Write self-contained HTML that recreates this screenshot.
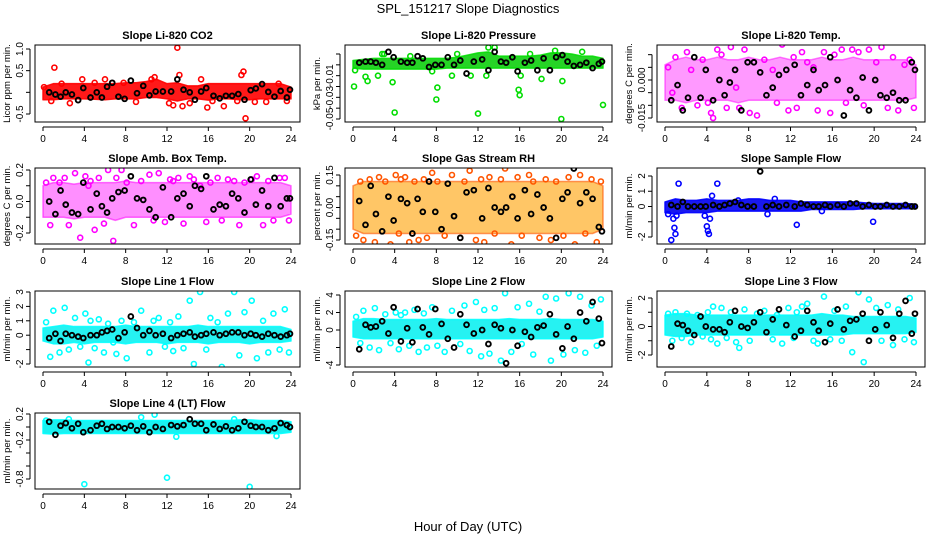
<!DOCTYPE html>
<html><head><meta charset="utf-8"><style>
body{margin:0;background:#fff;}
svg{display:block;font-family:"Liberation Sans",sans-serif;}
</style></head><body>
<svg id="chart" width="936" height="540" viewBox="0 0 936 540" xmlns="http://www.w3.org/2000/svg">
<rect width="936" height="540" fill="#fff"/>
<text x="468" y="13" text-anchor="middle" font-size="13">SPL_151217  Slope Diagnostics</text>
<text x="468" y="531" text-anchor="middle" font-size="13">Hour of Day (UTC)</text>
</svg>
<script>
const blackHours=[0.6,1.2,1.7,2.2,2.8,3.4,3.9,4.6,5.2,5.7,6.2,6.7,7.3,7.9,8.5,9.1,9.7,10.3,10.9,11.6,12.4,13.0,13.6,14.2,14.7,15.3,15.8,16.5,17.1,17.7,18.3,18.9,19.5,20.1,20.6,21.2,21.8,22.4,23.0,23.6,23.9];
const bandHours=[0,1,2,3,4,5,6,7,8,9,10,11,12,13,14,15,16,17,18,19,20,21,22,23,24];
const scatterHours=[0.3,0.7,1.0,1.6,2.1,2.5,3.1,3.6,4.1,4.4,4.6,5.0,5.4,5.9,6.3,6.8,7.1,7.6,8.1,8.8,9.5,10.3,10.7,11.2,11.8,12.3,12.6,13.1,13.6,14.2,14.6,15.2,15.8,16.2,16.9,17.3,17.9,18.5,19.0,19.5,20.2,20.7,21.3,21.8,22.3,22.9,23.4,23.8];
const xTicks=[0,4,8,12,16,20,24];

const co2Black=[0,-0.05,-0.1,0,-0.05,-0.18,0.1,-0.12,0,-0.12,0.13,0.22,-0.1,-0.15,0.27,-0.02,0.15,-0.07,0.02,0.02,0.02,0.3,0.06,0.0,-0.17,0.02,0.1,-0.08,-0.14,-0.08,-0.08,-0.04,-0.17,0.05,0.09,0.19,0.01,-0.1,0.03,-0.12,0.06];
const co2Lo=[-0.17,-0.17,-0.15,-0.15,-0.15,-0.16,-0.17,-0.15,-0.15,-0.15,-0.12,-0.12,-0.15,-0.2,-0.15,-0.15,-0.18,-0.15,-0.15,-0.17,-0.17,-0.15,-0.15,-0.15,-0.15];
const co2Hi=[0.12,0.2,0.2,0.2,0.2,0.2,0.2,0.2,0.22,0.22,0.25,0.3,0.2,0.22,0.15,0.15,0.2,0.2,0.2,0.2,0.2,0.2,0.2,0.2,0.12];
const co2OutX=[0.1,0.8,1.1,1.8,2.6,3.8,5.0,6.0,7.8,9.0,10.5,10.8,12.2,12.6,13.0,13.2,13.5,14.2,15.3,15.9,16.4,17.5,18.8,19.2,19.4,19.6,20.5,21.6,22.8,23.6];
const co2OutY=[0.12,-0.2,0.57,0.2,-0.25,0.3,0.22,0.3,0.22,-0.22,0.3,0.35,-0.25,-0.3,1.03,0.4,-0.32,-0.25,0.3,-0.35,-0.2,-0.32,-0.2,0.4,0.48,-0.6,-0.22,-0.22,0.2,-0.2];
const presBlack=[0.002,0.003,0.003,0.002,0.0,0.012,0.007,0.003,0.002,0.002,0.008,0.006,-0.002,0.0,0.0,0.007,0.0,0.004,-0.008,0.003,0.005,-0.005,0.012,0.003,0.002,0.007,-0.006,0.002,0.004,-0.005,0.006,-0.005,0.007,0.009,0.003,-0.001,0.0,0.002,-0.003,0.001,0.003];
const presLo=[-0.003,-0.004,-0.004,-0.004,-0.004,-0.004,-0.004,-0.004,-0.004,-0.003,-0.003,-0.003,-0.003,-0.003,-0.003,-0.003,-0.003,-0.003,-0.003,-0.003,-0.003,-0.003,-0.003,-0.003,-0.003];
const presHi=[0.004,0.005,0.006,0.006,0.006,0.006,0.006,0.006,0.006,0.006,0.007,0.009,0.011,0.012,0.008,0.008,0.008,0.008,0.009,0.011,0.011,0.01,0.008,0.008,0.006];
const presOutX=[0.1,0.2,1.2,1.4,2.4,2.8,3.8,4.0,5.5,7.6,8.0,8.1,10.0,11.3,12.0,12.8,13.0,13.6,15.9,16.0,16.1,18.1,19.4,20.0,20.1,22.0,24.0,3.0,9.5,17.0];
const presOutY=[-0.02,-0.005,-0.011,-0.015,-0.01,0.01,-0.016,-0.044,0.008,-0.006,-0.032,-0.021,0.01,-0.01,-0.045,-0.01,0.016,0.016,-0.023,-0.028,-0.01,-0.013,0.013,-0.05,-0.015,0.012,-0.037,0.01,-0.01,0.01];
const tempBlack=[-0.008,-0.002,-0.012,-0.007,0.009,-0.007,0.004,-0.008,0.0,-0.006,-0.001,0.004,-0.012,0.007,0.007,0.003,-0.006,-0.003,0.002,0.004,0.006,-0.006,-0.002,0.004,-0.004,-0.002,0.009,0.0,-0.014,-0.004,-0.007,0.001,-0.012,0.0,-0.006,-0.007,-0.005,-0.008,-0.008,0.007,0.004];
const tempLo=[-0.008,-0.008,-0.009,-0.008,-0.008,-0.008,-0.008,-0.009,-0.008,-0.008,-0.008,-0.008,-0.008,-0.008,-0.008,-0.008,-0.008,-0.008,-0.008,-0.008,-0.008,-0.008,-0.008,-0.008,-0.007];
const tempHi=[0.006,0.008,0.009,0.008,0.008,0.009,0.008,0.008,0.009,0.008,0.008,0.009,0.008,0.008,0.008,0.009,0.008,0.008,0.009,0.008,0.008,0.008,0.008,0.008,0.006];
const tempOutY=[0.005,-0.005,0.009,-0.011,0.011,0.004,-0.010,0.008,-0.009,-0.013,-0.015,0.012,0.010,-0.011,0.013,-0.003,-0.011,0.012,-0.013,-0.014,0.008,0.004,-0.009,0.014,-0.012,0.009,-0.011,0.011,0.007,0.005,-0.012,0.011,-0.013,0.010,0.012,-0.009,0.012,0.011,-0.010,0.012,0.007,0.013,-0.011,0.009,-0.012,0.006,0.008,-0.011];
const ambBlack=[0,-0.08,0.07,-0.02,-0.07,-0.08,0.12,-0.05,0.05,-0.03,-0.07,0.02,0.06,0.07,0.16,0.02,0.01,-0.05,-0.1,0.09,-0.1,0.02,0.05,-0.03,0.1,0.08,0.16,-0.05,-0.02,-0.03,0.05,0.02,-0.07,0.14,-0.02,0.07,-0.03,0.15,-0.03,0.02,0.02];
const ambLo=[-0.1,-0.1,-0.1,-0.11,-0.1,-0.1,-0.1,-0.12,-0.1,-0.1,-0.1,-0.1,-0.1,-0.1,-0.1,-0.1,-0.1,-0.1,-0.1,-0.1,-0.1,-0.1,-0.1,-0.1,-0.08];
const ambHi=[0.1,0.12,0.12,0.11,0.12,0.12,0.12,0.12,0.13,0.12,0.12,0.12,0.12,0.12,0.12,0.12,0.12,0.12,0.12,0.12,0.12,0.12,0.12,0.12,0.1];
const ambOutY=[0.12,-0.15,0.15,0.12,0.15,-0.15,0.18,-0.23,0.16,0.1,0.13,-0.18,0.15,-0.14,0.2,-0.25,0.15,0.2,0.12,-0.15,0.13,0.17,-0.12,0.18,-0.13,0.14,0.13,0.15,-0.14,0.16,0.14,0.1,-0.13,0.12,0.15,-0.12,0.14,0.13,-0.15,0.12,0.14,0.16,-0.15,0.13,-0.12,0.15,0.15,-0.12];
const rhBlack=[0.03,-0.08,0.1,-0.03,-0.11,0.05,-0.06,0.04,0.02,-0.12,0.04,-0.02,0.12,-0.02,-0.1,0.11,-0.04,-0.14,0.07,0.08,-0.05,0.09,0.0,-0.02,0.0,0.05,-0.05,0.08,-0.03,0.06,0.0,-0.05,-0.14,0.04,0.07,0.18,0.02,0.07,0.04,-0.09,-0.11];
const rhLo=[-0.1,-0.12,-0.12,-0.12,-0.12,-0.12,-0.12,-0.12,-0.12,-0.12,-0.12,-0.12,-0.12,-0.12,-0.12,-0.12,-0.12,-0.12,-0.12,-0.12,-0.12,-0.12,-0.12,-0.12,-0.1];
const rhHi=[0.1,0.12,0.12,0.12,0.12,0.12,0.12,0.12,0.12,0.12,0.12,0.12,0.12,0.12,0.12,0.12,0.12,0.12,0.12,0.12,0.12,0.12,0.12,0.12,0.1];
const rhOutY=[-0.13,0.12,-0.15,0.13,-0.16,0.14,0.12,-0.17,0.15,-0.12,0.13,0.14,-0.16,0.12,-0.15,0.13,-0.14,0.16,0.12,-0.13,0.15,-0.14,0.12,0.17,-0.15,0.13,-0.16,0.14,-0.12,0.13,0.18,-0.17,0.14,-0.13,0.15,0.12,-0.14,0.13,-0.15,0.12,-0.13,0.14,-0.17,0.15,-0.12,0.13,-0.16,0.12];
const sampBlack=[0.1,0.0,0.3,0.0,0.0,0.0,0.0,0.1,0.0,0.1,0.2,0.3,0.1,0.0,0.0,2.3,0.0,0.1,0.0,0.1,0.0,0.2,0.1,0.0,0.0,0.1,0.0,0.1,0.0,0.2,0.2,0.0,0.1,0.0,0.0,0.1,0.0,0.0,0.1,0.0,0.0];
const sampLo=[-0.4,-0.5,-0.4,-0.4,-0.4,-0.3,-0.3,-0.3,-0.3,-0.3,-0.3,-0.3,-0.3,-0.3,-0.2,-0.2,-0.2,-0.2,-0.2,-0.15,-0.15,-0.15,-0.15,-0.15,-0.15];
const sampHi=[0.3,0.5,0.4,0.4,0.5,0.4,0.4,0.4,0.5,0.5,0.4,0.4,0.4,0.3,0.3,0.3,0.3,0.3,0.3,0.25,0.2,0.2,0.2,0.2,0.15];
const sampOutX=[0.3,0.6,0.8,0.9,1.0,1.1,1.3,4.0,4.1,4.2,4.3,4.5,5.0,3.8,9.8,12.6,15.0,19.9,7.0,10.5];
const sampOutY=[-0.5,-2.2,-0.8,-1.4,-1.8,-0.6,1.5,-1.3,-1.6,-1.8,-0.8,0.7,1.5,-0.6,-0.5,-1.2,-0.3,-1.0,0.4,0.5];
const l1Black=[-0.2,0.1,-0.4,0.1,0.0,-0.1,-0.2,0.0,0.0,0.2,0.3,0.4,-0.2,0.2,1.3,0.5,0.0,0.3,0.0,0.1,-0.2,0.0,0.1,0.2,-0.1,0.0,0.1,0.2,0.0,0.1,0.2,0.2,0.0,0.1,0.0,-0.1,0.1,0.0,-0.1,0.0,0.1];
const l1Lo=[-0.4,-0.6,-0.6,-0.5,-0.6,-0.5,-0.5,-0.5,-0.6,-0.5,-0.5,-0.5,-0.6,-0.5,-0.5,-0.5,-0.6,-0.5,-0.5,-0.5,-0.6,-0.5,-0.5,-0.5,-0.4];
const l1Hi=[0.5,0.6,0.7,0.6,0.6,0.6,0.6,0.6,0.7,0.6,0.6,0.6,0.6,0.6,0.6,0.7,0.6,0.6,0.6,0.6,0.6,0.6,0.6,0.6,0.4];
const l1OutY=[0.9,-1.5,1.7,-1.2,1.9,-1.0,1.2,-0.8,1.5,-1.9,1.0,-0.9,1.1,-1.2,0.8,-0.5,-1.3,1.0,-1.6,0.9,1.7,-1.2,1.0,1.2,-0.8,0.9,-1.1,1.3,-0.9,2.4,-2.0,3.0,-1.0,1.2,0.9,-2.2,1.5,3.0,-1.4,1.6,2.4,-1.6,1.0,-1.2,1.5,-1.0,1.8,-1.2];
const l2Black=[-2.2,0.6,0.3,0.4,1.0,-0.4,2.6,-1.3,0.2,-1.4,2.4,0.3,-0.5,2.4,0.7,-1.0,-2.0,1.8,0.6,-0.4,0.0,-1.6,0.6,0.2,-3.8,0.0,-1.8,-0.2,-0.8,0.3,0.5,1.8,-0.5,-2.1,0.4,-1.0,2.0,1.0,3.2,1.3,-1.5];
const l2Lo=[-0.8,-1.0,-1.0,-1.0,-1.0,-1.0,-1.0,-1.0,-1.0,-1.0,-1.0,-1.0,-1.0,-1.0,-1.0,-1.0,-1.0,-1.0,-1.0,-1.0,-1.0,-1.0,-1.0,-1.0,-0.8];
const l2Hi=[1.0,1.3,1.3,1.2,1.2,1.2,1.2,1.2,1.3,1.2,1.2,1.2,1.2,1.2,1.2,1.3,1.2,1.2,1.2,1.3,1.2,1.2,1.2,1.2,1.0];
const l2OutY=[1.5,-1.5,2.2,-2.0,2.5,-2.3,1.8,-1.5,2.0,-2.2,1.7,2.0,-1.8,2.3,-2.5,1.9,-2.0,2.6,-1.8,-2.5,2.2,-1.6,2.8,-2.4,3.2,-3.0,2.3,-2.7,2.5,-3.5,4.2,-2.5,2.6,-1.6,3.0,-2.8,2.1,3.8,-3.5,3.6,-2.8,4.2,-2.3,3.8,-2.6,2.8,-1.8,3.5];
const l3Black=[-1.4,0.2,0.1,-0.3,-0.6,0.7,0.0,-0.2,-0.2,-0.4,0.3,1.1,0.0,-0.1,0.3,1.0,-0.4,0.5,1.2,0.1,-0.7,-0.3,1.1,0.3,-0.3,-1.1,0.2,1.2,-0.2,0.4,0.5,0.9,-1.0,-0.2,1.0,0.1,-0.8,0.9,1.8,-0.5,0.9];
const l3Lo=[-0.6,-0.7,-0.7,-0.6,-0.6,-0.6,-0.6,-0.6,-0.6,-0.6,-0.6,-0.6,-0.6,-0.6,-0.6,-0.6,-0.6,-0.6,-0.5,-0.5,-0.5,-0.5,-0.5,-0.5,-0.4];
const l3Hi=[0.8,0.9,0.9,0.8,0.8,0.8,0.8,0.8,0.8,0.8,0.8,0.8,0.8,0.8,0.8,0.9,0.8,0.8,0.7,0.7,0.7,0.7,0.7,0.7,0.6];
const l3OutY=[0.9,-1.0,1.0,-0.8,0.9,-1.1,0.8,-0.7,1.0,-0.9,1.4,-1.2,1.3,-0.8,1.0,-1.1,-1.5,1.2,-1.0,0.9,1.1,-0.9,0.8,-1.2,1.3,-0.8,1.0,1.4,1.6,-1.0,-1.2,2.1,-0.9,1.1,-1.0,1.4,-1.8,2.4,-2.5,1.9,1.3,-1.0,1.5,-1.3,1.2,-0.9,2.0,-1.1];
const l4Black=[0.08,-0.12,0.02,0.06,-0.02,0.05,-0.08,-0.05,0.02,0.05,-0.03,0.0,0.0,-0.02,0.02,-0.05,0.01,-0.08,0.0,-0.03,0.03,0.01,0.03,0.12,0.05,0.05,-0.05,0.04,-0.03,0.01,-0.05,-0.02,0.08,0.02,0.0,0.0,-0.05,-0.02,0.06,0.03,0.0];
const l4Lo=[-0.1,-0.11,-0.1,-0.1,-0.1,-0.1,-0.1,-0.1,-0.1,-0.1,-0.1,-0.1,-0.1,-0.1,-0.1,-0.1,-0.1,-0.1,-0.1,-0.1,-0.1,-0.1,-0.1,-0.1,-0.08];
const l4Hi=[0.1,0.11,0.11,0.1,0.1,0.1,0.1,0.1,0.1,0.1,0.1,0.1,0.1,0.1,0.1,0.1,0.1,0.1,0.1,0.11,0.11,0.1,0.1,0.1,0.08];
const l4OutX=[4.0,12.0,20.0,0.3,10.8,2.5,12.9,22.6,9.5,18.5];
const l4OutY=[-0.88,-0.78,-0.92,0.1,0.19,0.12,-0.15,-0.14,0.15,0.12];

const co2Ticks=[[1.0,"1.0"],[0.5,"0.5"],[0,""],[-0.5,"-0.5"]];
const presTicks=[[0.01,""],[0,""],[-0.01,"-0.01"],[-0.02,""],[-0.03,"-0.03"],[-0.04,""],[-0.05,"-0.05"]];
const tempTicks=[[0.01,""],[0.005,""],[0,"0.000"],[-0.005,""],[-0.01,""],[-0.015,"-0.015"]];
const ambTicks=[[0.2,"0.2"],[0.1,""],[0,"0.0"],[-0.1,""],[-0.2,"-0.2"]];
const rhTicks=[[0.15,"0.15"],[0.1,""],[0.05,""],[0,"0.00"],[-0.05,""],[-0.1,""],[-0.15,"-0.15"]];
const sampTicks=[[2,"2"],[1,"1"],[0,"0"],[-1,""],[-2,"-2"]];
const l1Ticks=[[3,"3"],[2,"2"],[1,"1"],[0,"0"],[-1,""],[-2,"-2"]];
const l2Ticks=[[4,"4"],[2,"2"],[0,"0"],[-2,""],[-4,"-4"]];
const l3Ticks=[[2,"2"],[1,""],[0,"0"],[-1,""],[-2,"-2"]];
const l4Ticks=[[0.2,"0.2"],[0,""],[-0.2,"-0.2"],[-0.4,""],[-0.6,""],[-0.8,"-0.8"]];

const NS="http://www.w3.org/2000/svg";
const svg=document.getElementById('chart');
function mk(tag,attrs,parent){const e=document.createElementNS(NS,tag);for(const k in attrs)e.setAttribute(k,attrs[k]);(parent||svg).appendChild(e);return e;}

const cols=[[35,300],[345,612],[657,925]];
const rows=[[45,122],[168,244],[291,367],[413,489]];

const panels=[
 {key:'co2',title:'Slope Li-820 CO2',yl:'Licor ppm per min.',c:0,r:0,ref:[1.0,49,-0.5,114],ticks:co2Ticks,col:'#ff0000',band:'#ff0000',op:0.9,lo:co2Lo,hi:co2Hi,ox:co2OutX,oy:co2OutY,by:co2Black},
 {key:'pressure',title:'Slope Li-820 Pressure',yl:'kPa per min.',c:1,r:0,ref:[0.01,54,-0.05,119],ticks:presTicks,col:'#00dd00',band:'#00cc00',op:0.85,lo:presLo,hi:presHi,ox:presOutX,oy:presOutY,by:presBlack},
 {key:'li820-temp',title:'Slope Li-820 Temp.',yl:'degrees C per min.',c:2,r:0,ref:[0,80,-0.015,118],ticks:tempTicks,col:'#ff00ff',band:'#ff33ff',op:0.5,lo:tempLo,hi:tempHi,ox:scatterHours,oy:tempOutY,by:tempBlack},
 {key:'amb-temp',title:'Slope Amb. Box Temp.',yl:'degrees C per min.',c:0,r:1,ref:[0.2,170,-0.2,233],ticks:ambTicks,col:'#ff00ff',band:'#ff33ff',op:0.55,lo:ambLo,hi:ambHi,ox:scatterHours,oy:ambOutY,by:ambBlack},
 {key:'rh',title:'Slope Gas Stream RH',yl:'percent per min.',c:1,r:1,ref:[0.15,175,-0.15,240],ticks:rhTicks,col:'#ff5500',band:'#ffa000',op:0.6,lo:rhLo,hi:rhHi,ox:scatterHours,oy:rhOutY,by:rhBlack},
 {key:'sample-flow',title:'Slope Sample Flow',yl:'ml/min per min.',c:2,r:1,ref:[2,176,-2,237],ticks:sampTicks,col:'#0000ff',band:'#0000ee',op:0.9,lo:sampLo,hi:sampHi,ox:sampOutX,oy:sampOutY,by:sampBlack},
 {key:'line1',title:'Slope Line 1 Flow',yl:'ml/min per min.',c:0,r:2,ref:[3,292,-2,364],ticks:l1Ticks,col:'#00ffff',band:'#00f0f0',op:0.85,lo:l1Lo,hi:l1Hi,ox:scatterHours,oy:l1OutY,by:l1Black},
 {key:'line2',title:'Slope Line 2 Flow',yl:'ml/min per min.',c:1,r:2,ref:[4,295,-4,365],ticks:l2Ticks,col:'#00ffff',band:'#00f0f0',op:0.85,lo:l2Lo,hi:l2Hi,ox:scatterHours,oy:l2OutY,by:l2Black},
 {key:'line3',title:'Slope Line 3 Flow',yl:'ml/min per min.',c:2,r:2,ref:[2,298,-2,355],ticks:l3Ticks,col:'#00ffff',band:'#00f0f0',op:0.85,lo:l3Lo,hi:l3Hi,ox:scatterHours,oy:l3OutY,by:l3Black},
 {key:'line4',title:'Slope Line 4 (LT) Flow',yl:'ml/min per min.',c:0,r:3,ref:[0.2,414,-0.8,479],ticks:l4Ticks,col:'#00ffff',band:'#00f0f0',op:0.9,lo:l4Lo,hi:l4Hi,ox:l4OutX,oy:l4OutY,by:l4Black}
];

panels.forEach(p=>{
  const [x0,x1]=cols[p.c],[y0,y1]=rows[p.r];
  const xs=v=>(x0+8)+(v/24)*((x1-9)-(x0+8));
  const ys=v=>p.ref[1]+(v-p.ref[0])*(p.ref[3]-p.ref[1])/(p.ref[2]-p.ref[0]);
  const g=mk('g',{});
  
  
  const clipId='clip-'+p.key;
  const cp=mk('clipPath',{id:clipId},g);mk('rect',{x:x0,y:y0,width:x1-x0,height:y1-y0},cp);
  const pg=mk('g',{'clip-path':'url(#'+clipId+')'},g);
  let pts=[];
  const n=Math.min(bandHours.length,p.lo.length,p.hi.length);
  for(let i=0;i<n;i++)pts.push(xs(bandHours[i])+','+ys(p.hi[i]));
  for(let i=n-1;i>=0;i--)pts.push(xs(bandHours[i])+','+ys(p.lo[i]));
  const band=mk('polygon',{points:pts.join(' '),fill:p.band,'fill-opacity':p.op,stroke:p.col,'stroke-opacity':p.op,'stroke-width':1.5,'stroke-linejoin':'round'},pg);
  
  
  const m=Math.min(p.ox.length,p.oy.length);
  for(let i=0;i<m;i++){
    const c=mk('circle',{cx:xs(p.ox[i]),cy:ys(p.oy[i]),r:2.5,fill:'none',stroke:p.col,'stroke-width':1.6},pg);
    
    
  }
  const k=Math.min(blackHours.length,p.by.length);
  for(let i=0;i<k;i++){
    const c=mk('circle',{cx:xs(blackHours[i]),cy:ys(p.by[i]),r:2.4,fill:'none',stroke:'#000','stroke-width':1.9},pg);
    
    
  }
  const box=mk('rect',{x:x0,y:y0,width:x1-x0,height:y1-y0,fill:'none',stroke:'#000','stroke-width':1},g);
  
  
  const t=mk('text',{x:(x0+x1)/2,y:y0-6,'text-anchor':'middle','font-size':11,'font-weight':'bold'},g);
  t.textContent=p.title;
  
  
  const xa=mk('g',{},g);
  
  
  mk('line',{x1:xs(0),x2:xs(24),y1:y1+5,y2:y1+5,stroke:'#000'},xa);
  xTicks.forEach(v=>{
    mk('line',{x1:xs(v),x2:xs(v),y1:y1+5,y2:y1+9,stroke:'#000'},xa);
    const tl=mk('text',{x:xs(v),y:y1+20,'text-anchor':'middle','font-size':10},xa);
    tl.textContent=v;
  });
  const ya=mk('g',{},g);
  
  
  const tv=p.ticks.map(d=>ys(d[0]));
  mk('line',{x1:x0-5,x2:x0-5,y1:Math.min(...tv),y2:Math.max(...tv),stroke:'#000'},ya);
  p.ticks.forEach(d=>{
    const yy=ys(d[0]);
    mk('line',{x1:x0-9,x2:x0-5,y1:yy,y2:yy,stroke:'#000'},ya);
    if(d[1]){const tl=mk('text',{x:x0-12,y:yy,'text-anchor':'middle','font-size':10,transform:'rotate(-90 '+(x0-12)+' '+yy+')'},ya);tl.textContent=d[1];}
  });
  const yc=(y0+y1)/2;
  const yt=mk('text',{x:x0-25,y:yc,'text-anchor':'middle','font-size':9.5,transform:'rotate(-90 '+(x0-25)+' '+yc+')'},g);
  yt.textContent=p.yl;
  
  
});
</script>
</body></html>
